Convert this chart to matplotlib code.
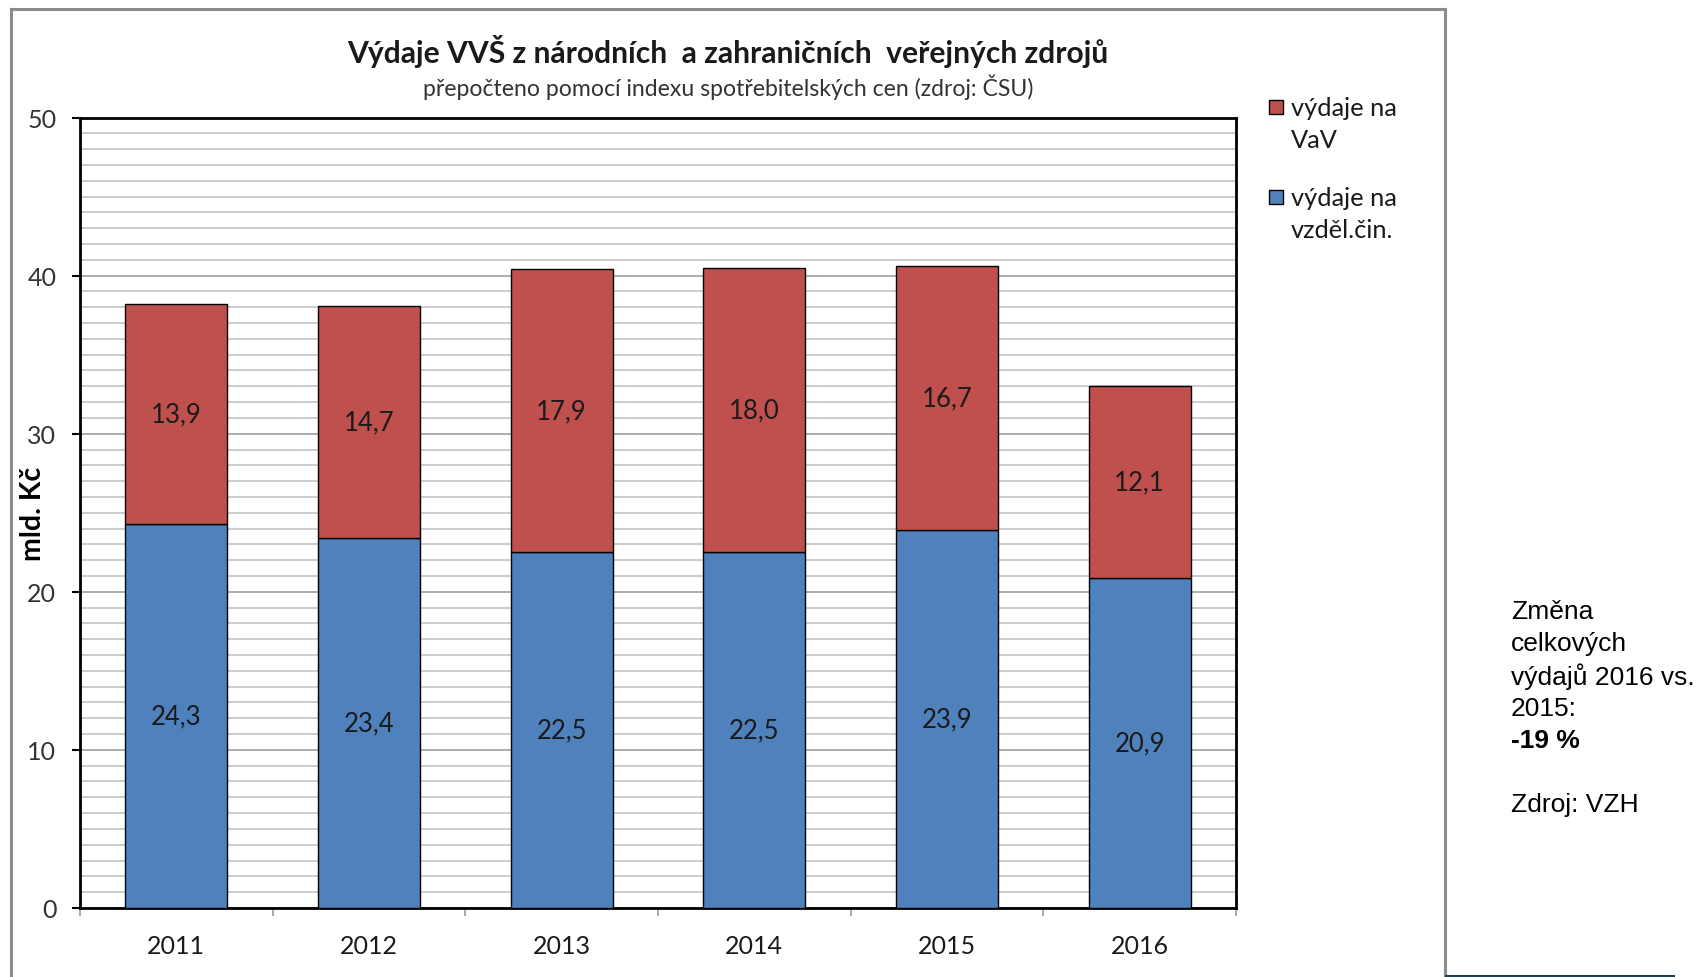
import numpy as np
import matplotlib.pyplot as plt
from matplotlib.patches import Rectangle
from matplotlib.lines import Line2D
from matplotlib.ticker import MultipleLocator

years = ['2011', '2012', '2013', '2014', '2015', '2016']
vzdel = [24.3, 23.4, 22.5, 22.5, 23.9, 20.9]   # výdaje na vzděl. čin.
vav = [13.9, 14.7, 17.9, 18.0, 16.7, 12.1]     # výdaje na VaV
labels = ['výdaje na\nVaV', 'výdaje na\nvzděl.čin.']
colors = ['#C0504D', '#4F81BD']
note_lines = ['Změna', 'celkových', 'výdajů 2016 vs.', '2015:', '-19 %', '', 'Zdroj: VZH']

plt.rcParams['font.family'] = ['Lato', 'DejaVu Sans']

fig = plt.figure(figsize=(16.98, 9.78), dpi=100)
ax = fig.add_axes([0.0471, 0.0706, 0.6808, 0.8082])

x = np.arange(len(years))
ax.bar(x, vzdel, width=0.53, color=colors[1], edgecolor='black', linewidth=1, zorder=3)
ax.bar(x, vav, width=0.53, bottom=vzdel, color=colors[0], edgecolor='black', linewidth=1, zorder=3)

for i in range(len(years)):
    ax.text(x[i], vzdel[i] / 2, f'{vzdel[i]:.1f}'.replace('.', ','), ha='center', va='center',
            fontsize=18.5, color='#1a1a1a', zorder=4)
    ax.text(x[i], vzdel[i] + vav[i] / 2, f'{vav[i]:.1f}'.replace('.', ','), ha='center', va='center',
            fontsize=18.5, color='#1a1a1a', zorder=4)

ax.set_xlim(-0.5, 5.5)
ax.set_ylim(0, 50)
ax.yaxis.set_major_locator(MultipleLocator(10))
ax.yaxis.set_minor_locator(MultipleLocator(1))
ax.grid(which='minor', axis='y', color='#c8c8c8', linewidth=1.3, zorder=0)
ax.grid(which='major', axis='y', color='#a6a6a6', linewidth=1.3, zorder=0)
ax.set_axisbelow(True)
ax.tick_params(axis='y', which='minor', length=0)
ax.tick_params(axis='y', which='major', length=6, width=1.5, color='black', pad=11,
               labelsize=18, labelcolor='#333333')

# category ticks sit on the boundaries, labels in the middle
ax.set_xticks(np.arange(-0.5, 6, 1))
ax.set_xticklabels([])
ax.set_xticks(x, minor=True)
ax.set_xticklabels(years, minor=True)
ax.tick_params(axis='x', which='major', length=6, width=1.2, color='#999999')
ax.tick_params(axis='x', which='minor', length=0, pad=19, labelsize=18, labelcolor='#1a1a1a')

for s in ax.spines.values():
    s.set_linewidth(2)
    s.set_color('black')

ax.set_ylabel('mld. Kč', fontsize=20.5, fontweight='bold')
ax.yaxis.set_label_coords(-0.029, 0.5)

fig.text(0.4287, 0.947, 'Výdaje VVŠ z národních  a zahraničních  veřejných zdrojů',
         ha='center', va='center', fontsize=21.6, fontweight='bold', color='#1a1a1a')
fig.text(0.4287, 0.911, 'přepočteno pomocí indexu spotřebitelských cen (zdroj: ČSU)',
         ha='center', va='center', fontsize=16.6, color='#333333')

# legend, drawn by hand so the square lines up with the first text row
leg_y = [0.8727, 0.7807]
sq_y = [108, 198]
for lab, col, ty, sy in zip(labels, colors, leg_y, sq_y):
    fig.patches.append(Rectangle((1269 / 1698, 1 - (sy + 7) / 978), 14 / 1698, 14 / 978,
                                 transform=fig.transFigure, facecolor=col,
                                 edgecolor='black', linewidth=1))
    fig.text(1291 / 1698, ty, lab, ha='left', va='center', fontsize=18.3,
             color='#1a1a1a', linespacing=1.5)

# note at the right
for k, line in enumerate(note_lines):
    if not line:
        continue
    fig.text(1511 / 1698, 1 - (612 + k * 32.2) / 978, line, ha='left', va='center',
             fontsize=19, family='Liberation Sans', color='black',
             fontweight='bold' if line.startswith('-') else 'normal')

# frame of the chart object
gray = '#8c8c8c'
fig.add_artist(Line2D([11 / 1698, 11 / 1698], [0, 1 - 10 / 978], transform=fig.transFigure,
                      color=gray, linewidth=2.2))
fig.add_artist(Line2D([11 / 1698, 1445 / 1698], [1 - 10 / 978, 1 - 10 / 978],
                      transform=fig.transFigure, color=gray, linewidth=2.2))
fig.add_artist(Line2D([1445 / 1698, 1445 / 1698], [0, 1 - 10 / 978], transform=fig.transFigure,
                      color=gray, linewidth=2.2))
fig.add_artist(Line2D([1446 / 1698, 1674 / 1698], [1 / 978, 1 / 978], transform=fig.transFigure,
                      color='#1f3f4f', linewidth=1.5))

fig.savefig('out.png', dpi=100)
